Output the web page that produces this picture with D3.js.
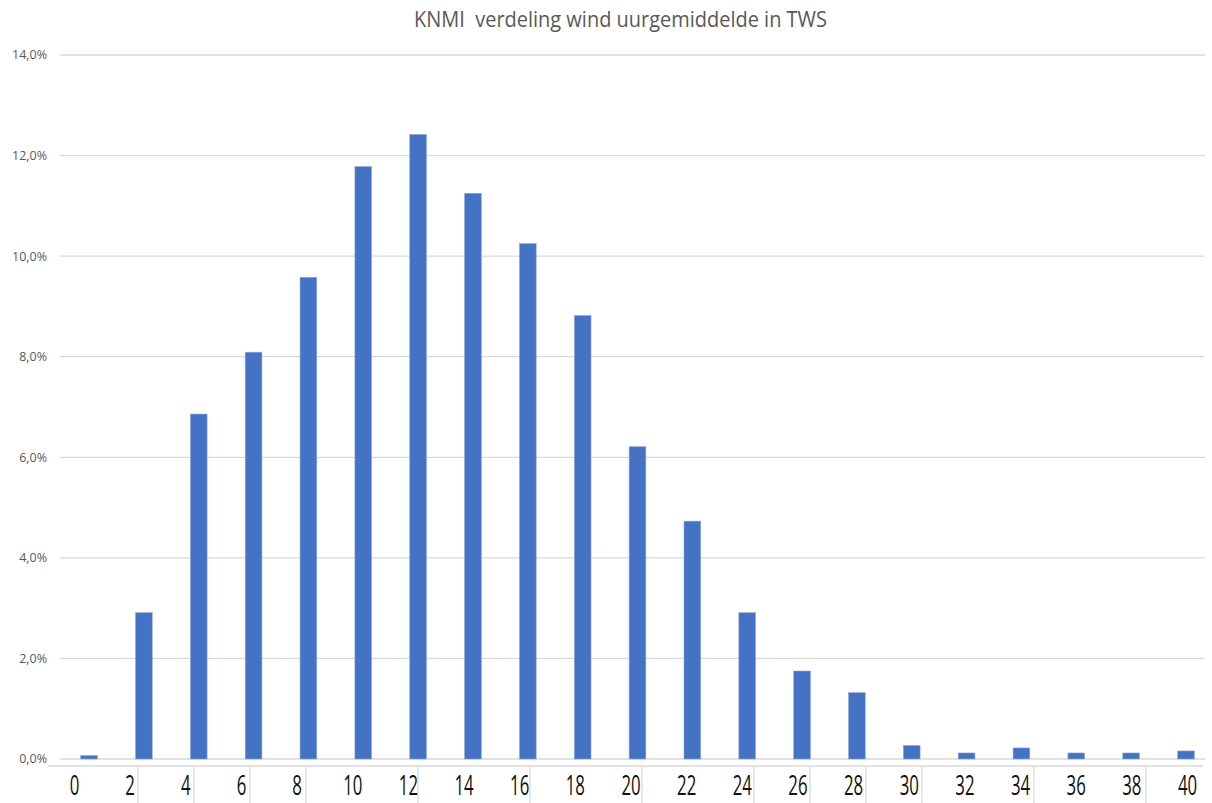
<!DOCTYPE html>
<html>
<head>
<meta charset="utf-8">
<script src="https://cdn.jsdelivr.net/npm/d3@7"></script>
<style>
  html, body { margin: 0; padding: 0; background: #ffffff; }
  svg { display: block; }
</style>
</head>
<body>
<div id="chart"></div>
<script>
// Wind speed classes (knots) and share of hourly means per class
const windClasses = [0, 2, 4, 6, 8, 10, 12, 14, 16, 18, 20, 22, 24, 26, 28, 30, 32, 34, 36, 38, 40];
const shares = [0.07, 2.91, 6.86, 8.09, 9.58, 11.78, 12.42, 11.25, 10.25, 8.82, 6.21, 4.73, 2.91, 1.75, 1.32, 0.27, 0.12, 0.22, 0.12, 0.12, 0.16];
const yTicks = [0, 2, 4, 6, 8, 10, 12, 14];
const xLabels = [0, 2, 4, 6, 8, 10, 12, 14, 16, 18, 20, 22, 24, 26, 28, 30, 32, 34, 36, 38, 40];
const xSeparators = [2, 4, 6, 8, 12, 16, 20, 24, 26, 28, 30, 34, 38];
const titleText = "KNMI  verdeling wind uurgemiddelde in TWS";

const W = 1212, H = 803;
const svg = d3.select("#chart").append("svg")
  .attr("width", W).attr("height", H);

// Plot scales
const x = d3.scaleBand()
  .domain(windClasses)
  .range([61.6, 1213.4])
  .paddingInner(0.695)
  .paddingOuter(0.3475);
const y = d3.scaleLinear().domain([0, 14]).range([759, 55]);

// Horizontal gridlines
svg.append("g")
  .selectAll("line")
  .data(yTicks)
  .join("line")
  .attr("x1", 60).attr("x2", 1205)
  .attr("y1", d => y(d)).attr("y2", d => y(d))
  .attr("stroke", "#d9d9d9")
  .attr("stroke-width", 1.3);

// Y axis labels
const fmt = d => d3.format(".1f")(d).replace(".", ",") + "%";
svg.append("g")
  .selectAll("text")
  .data(yTicks)
  .join("text")
  .attr("x", 47)
  .attr("y", d => y(d))
  .attr("dy", "0.35em")
  .attr("text-anchor", "end")
  .attr("font-family", "'Open Sans', 'Liberation Sans', sans-serif")
  .attr("font-size", 12.5)
  .attr("fill", "#595959")
  .text(fmt);

// Bars
svg.append("g")
  .selectAll("rect")
  .data(windClasses.map((c, i) => ({ c, v: shares[i] })))
  .join("rect")
  .attr("x", d => x(d.c))
  .attr("width", x.bandwidth())
  .attr("y", d => y(d.v))
  .attr("height", d => y(0) - y(d.v))
  .attr("fill", "#4472c4")
  .attr("stroke", "#8faadc")
  .attr("stroke-width", 0.6);

// Category axis below the plot
const labelX = d3.scaleLinear().domain([0, 40]).range([74.5, 1187.5]);
const sepX = d3.scaleLinear().domain([0, 40]).range([82, 1202]);
const axisY = 766;

svg.append("line")
  .attr("x1", 48).attr("x2", 1203)
  .attr("y1", axisY).attr("y2", axisY)
  .attr("stroke", "#d9d9d9")
  .attr("stroke-width", 1.3);

svg.append("g")
  .selectAll("line")
  .data(xSeparators)
  .join("line")
  .attr("x1", d => sepX(d)).attr("x2", d => sepX(d))
  .attr("y1", axisY).attr("y2", H)
  .attr("stroke", "#d9d9d9")
  .attr("stroke-width", 1.2);

svg.append("g")
  .selectAll("text")
  .data(xLabels)
  .join("text")
  .attr("transform", d => `translate(${labelX(d)},795) scale(0.7,1.12)`)
  .attr("text-anchor", "middle")
  .attr("font-family", "'Open Sans', 'Liberation Sans', sans-serif")
  .attr("font-size", 24)
  .attr("fill", "#111111")
  .text(d => d);

// Title
svg.append("text")
  .attr("x", 414)
  .attr("y", 27)
  .attr("textLength", 413)
  .attr("lengthAdjust", "spacingAndGlyphs")
  .attr("font-family", "'Open Sans', 'Liberation Sans', sans-serif")
  .attr("font-size", 21)
  .attr("fill", "#595959")
  .attr("xml:space", "preserve")
  .style("white-space", "pre")
  .text(titleText);
</script>
</body>
</html>
